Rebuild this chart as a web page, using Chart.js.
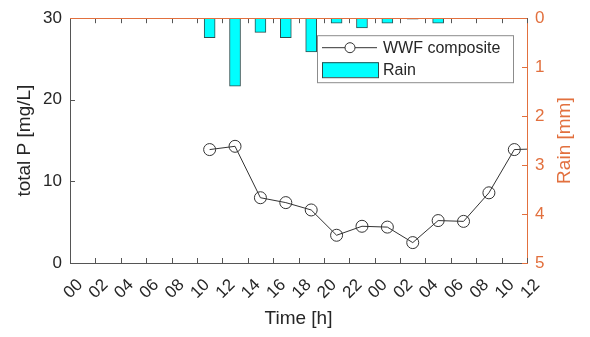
<!DOCTYPE html>
<html>
<head>
<meta charset="utf-8">
<script src="https://cdn.jsdelivr.net/npm/chart.js@4.4.0/dist/chart.umd.min.js"></script>
<style>
html, body { margin: 0; padding: 0; background: #fff; }
</style>
</head>
<body>
<canvas id="grafico" width="590" height="337"></canvas>
<script>
// tempo em horas a partir das 00h do primeiro dia
const horas = [11, 13, 15, 17, 19, 21, 23, 25, 27, 29, 31, 33, 35, 37];
const fosforoTotal = [13.9, 14.3, 8.0, 7.4, 6.5, 3.4, 4.5, 4.4, 2.5, 5.2, 5.1, 8.6, 13.9, 14.0]; // mg/L

const horasChuva = [11, 13, 15, 17, 19, 21, 23, 25, 27, 29, 31, 33, 35];
const chuva = [0.40, 1.39, 0.29, 0.40, 0.69, 0.10, 0.20, 0.10, 0.02, 0.10, 0, 0, 0]; // mm

const xTickLabels = ['00', '02', '04', '06', '08', '10', '12', '14', '16', '18', '20', '22',
                     '00', '02', '04', '06', '08', '10', '12'];

const laranja = '#E2703E';
const cinza = '#262626';
const fonte = "'Liberation Sans', Arial, sans-serif";

function linha(ctx, x1, y1, x2, y2) {
    ctx.beginPath();
    ctx.moveTo(x1, y1);
    ctx.lineTo(x2, y2);
    ctx.stroke();
}

// moldura, ticks internos, título da direita e legenda
const moldura = {
    id: 'moldura',
    afterDatasetsDraw(chart) {
        const { ctx, chartArea: a, scales } = chart;
        ctx.save();
        ctx.lineWidth = 1;

        ctx.strokeStyle = '#555';
        scales.x.ticks.forEach(t => {
            const px = Math.round(scales.x.getPixelForValue(t.value)) + 0.5;
            linha(ctx, px, a.bottom, px, a.bottom - 5);
            linha(ctx, px, a.top, px, a.top + 5);
        });
        scales.y.ticks.forEach(t => {
            const py = Math.round(scales.y.getPixelForValue(t.value)) + 0.5;
            linha(ctx, a.left, py, a.left + 5, py);
        });
        ctx.strokeStyle = laranja;
        scales.y2.ticks.forEach(t => {
            const py = Math.round(scales.y2.getPixelForValue(t.value)) + 0.5;
            linha(ctx, a.right, py, a.right - 5, py);
        });
        linha(ctx, a.left, Math.round(a.top) + 0.5, a.right, Math.round(a.top) + 0.5);

        // título do eixo direito (lido de baixo para cima)
        ctx.save();
        ctx.translate(565, (a.top + a.bottom) / 2);
        ctx.rotate(-Math.PI / 2);
        ctx.fillStyle = laranja;
        ctx.font = '19px ' + fonte;
        ctx.textAlign = 'center';
        ctx.textBaseline = 'middle';
        ctx.fillText('Rain [mm]', 0, 0);
        ctx.restore();

        // legenda
        const ds = chart.data.datasets;
        const lx = a.left + 247, ly = a.top + 17, lw = 196, lh = 47;
        ctx.fillStyle = '#fff';
        ctx.fillRect(lx, ly, lw, lh);
        ctx.strokeStyle = '#8c8c8c';
        ctx.strokeRect(lx + 0.5, ly + 0.5, lw, lh);

        ctx.strokeStyle = ds[0].borderColor;
        linha(ctx, lx + 5, ly + 12.5, lx + 60, ly + 12.5);
        ctx.beginPath();
        ctx.arc(lx + 33, ly + 12.5, 5, 0, Math.PI * 2);
        ctx.fillStyle = '#fff';
        ctx.fill();
        ctx.stroke();

        ctx.fillStyle = ds[1].backgroundColor;
        ctx.fillRect(lx + 5, ly + 27, 56, 15);
        ctx.strokeStyle = ds[1].borderColor;
        ctx.strokeRect(lx + 5.5, ly + 27.5, 56, 15);

        ctx.fillStyle = cinza;
        ctx.font = '16px ' + fonte;
        ctx.textAlign = 'left';
        ctx.textBaseline = 'middle';
        ctx.fillText(ds[0].label, lx + 66, ly + 13);
        ctx.fillText(ds[1].label, lx + 66, ly + 35);

        ctx.restore();
    }
};

const ctx = document.getElementById('grafico').getContext('2d');
const grafico = new Chart(ctx, {
    type: 'bar',
    data: {
        datasets: [{
            type: 'line',
            label: 'WWF composite',
            data: horas.map((h, i) => ({ x: h, y: fosforoTotal[i] })),
            yAxisID: 'y',
            borderColor: '#333333',
            borderWidth: 1,
            pointRadius: 6,
            pointBorderWidth: 1,
            pointBorderColor: '#333333',
            pointBackgroundColor: 'rgba(0,0,0,0)',
            tension: 0,
            order: 0
        }, {
            type: 'bar',
            label: 'Rain',
            data: horasChuva.map((h, i) => ({ x: h, y: chuva[i] })),
            yAxisID: 'y2',
            backgroundColor: '#00FFFF',
            borderColor: '#2f4f4f',
            borderWidth: 1,
            borderSkipped: false,
            barThickness: 11,
            order: 1
        }]
    },
    options: {
        responsive: false,
        animation: false,
        devicePixelRatio: 1,
        layout: { padding: { top: 15, left: 0, right: 0, bottom: 0 } },
        plugins: {
            legend: { display: false },
            tooltip: { enabled: false }
        },
        scales: {
            x: {
                type: 'linear',
                position: 'bottom',
                min: 0,
                max: 36,
                offset: false,
                grid: { display: false, drawTicks: false },
                border: { display: true, color: '#555', width: 1 },
                ticks: {
                    stepSize: 2,
                    autoSkip: false,
                    minRotation: 45,
                    maxRotation: 45,
                    padding: 12,
                    labelOffset: 10,
                    color: cinza,
                    font: { family: fonte, size: 17 },
                    callback: (v) => xTickLabels[v / 2]
                },
                title: {
                    display: true,
                    text: 'Time [h]',
                    color: cinza,
                    font: { family: fonte, size: 19 },
                    padding: { top: 0, bottom: 7 }
                },
                afterFit: (s) => { s.height = 74; }
            },
            y: {
                position: 'left',
                min: 0,
                max: 30,
                grid: { display: false, drawTicks: false },
                border: { display: true, color: '#555', width: 1 },
                ticks: {
                    stepSize: 10,
                    padding: 8,
                    color: cinza,
                    font: { family: fonte, size: 17 }
                },
                title: {
                    display: true,
                    text: 'total P [mg/L]',
                    color: cinza,
                    font: { family: fonte, size: 19 },
                    padding: { top: 13, bottom: 0 }
                },
                afterFit: (s) => { s.width = 70; }
            },
            y2: {
                position: 'right',
                reverse: true,
                min: 0,
                max: 5,
                grid: { display: false, drawTicks: false },
                border: { display: true, color: laranja, width: 1 },
                ticks: {
                    stepSize: 1,
                    padding: 8,
                    color: laranja,
                    font: { family: fonte, size: 17 }
                },
                afterFit: (s) => { s.width = 63; }
            }
        }
    },
    plugins: [moldura]
});
</script>
</body>
</html>
